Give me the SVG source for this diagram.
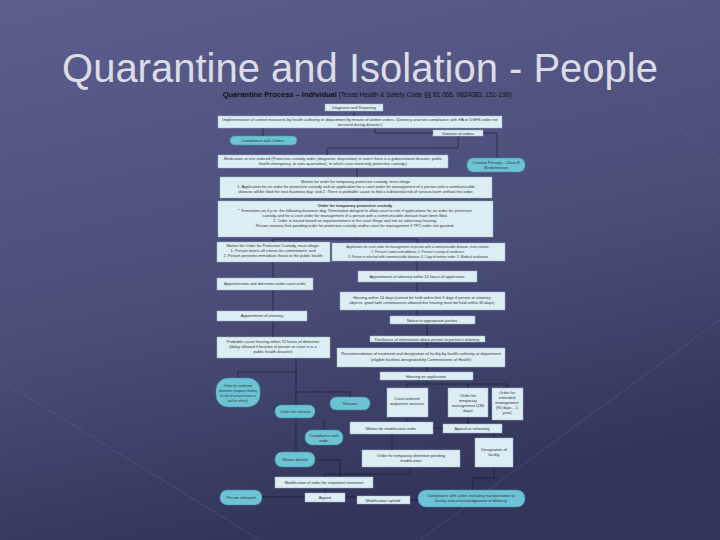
<svg xmlns="http://www.w3.org/2000/svg" width="720" height="540" viewBox="0 0 720 540">
<defs>
<linearGradient id="bg" x1="0" y1="0" x2="0.3" y2="1">
<stop offset="0" stop-color="#5c5f8e"/><stop offset="0.6" stop-color="#4a4d78"/><stop offset="1" stop-color="#33355a"/>
</linearGradient>
<marker id="ah" viewBox="0 0 6 6" refX="5" refY="3" markerWidth="3" markerHeight="3" orient="auto"><path d="M0,0L6,3L0,6z" fill="#111"/></marker>
<style>
.b{fill:#dcedf3;stroke:#9fb8c4;stroke-width:0.5}
.p{fill:#6cc3d5;stroke:#3f8fa3;stroke-width:0.6}
.t{font-family:"Liberation Sans",Arial,sans-serif;font-size:4px;fill:#333;text-anchor:middle}
.s{font-size:3.3px}
.c path{fill:none;stroke:#1a1a28;stroke-width:0.6;marker-end:url(#ah)}
</style>
</defs>
<rect width="720" height="540" fill="url(#bg)"/>
<g stroke="#6a6d9a" stroke-width="1" opacity="0.35"><path d="M0,380L260,540M420,540L720,320M520,0L720,160"/></g>
<text x="360" y="82" font-family="Liberation Sans,Arial,sans-serif" font-size="40" fill="#dcdce6" text-anchor="middle">Quarantine and Isolation - People</text>
<text x="367" y="97" font-family="Liberation Sans,Arial,sans-serif" font-size="6.5" fill="#111" text-anchor="middle"><tspan font-weight="bold" font-size="7.5">Quarantine Process – Individual</tspan> (Texas Health &amp; Safety Code §§ 81.066, 0824083, 151-196)</text>

<g class="c">
<path d="M354,111V116"/><path d="M263,128V136"/><path d="M375,128V133H433"/>
<path d="M458,136V148H327V155"/><path d="M483,133H497V158"/>
<path d="M357,168V177"/><path d="M357,198V201"/>
<path d="M357,237V239H273V242"/><path d="M357,239H417V243"/>
<path d="M273,262V278"/><path d="M273,290V311"/><path d="M273,321V337"/>
<path d="M417,261V271"/><path d="M417,282V292"/><path d="M417,310V316"/><path d="M427,324V336"/><path d="M427,342V348"/><path d="M427,367V372"/>
<path d="M427,380V384H407V388"/><path d="M427,384H468V388"/><path d="M468,384H507V388"/>
<path d="M296,358V405"/><path d="M296,372H238V378"/><path d="M296,392H350V397"/>
<path d="M296,418V452"/><path d="M324,420V430"/>
<path d="M407,417V422"/><path d="M468,417V424"/><path d="M443,428H433"/><path d="M494,433V438"/>
<path d="M392,434V450"/><path d="M410,467V474H325V477"/><path d="M315,460H340V477"/>
<path d="M325,488V493"/><path d="M305,497H262"/><path d="M345,497H357"/><path d="M410,500H418"/>
<path d="M494,467V478H473V490"/>
</g>

<g id="n1"><rect class="b" x="325" y="104" width="58" height="7"/><text class="t" x="354" y="109">Diagnosis and Reporting</text></g>
<g id="n2"><rect class="b" x="218" y="116" width="284" height="12"/><text class="t" x="360" y="121">Implementation of control measures by health authority or department by means of written orders.  (Delivery and non-compliance with HA or DSHS order not</text><text class="t" x="360" y="126">received during disaster.)</text></g>
<g id="n3"><rect class="b" x="433" y="130" width="50" height="6"/><text class="t" x="458" y="134.5">Violation of orders</text></g>
<g id="n4"><rect class="p" x="230" y="136" width="67" height="9" rx="4.5"/><text class="t" x="263" y="142">Compliance with Orders</text></g>
<g id="n5"><rect class="b" x="218" y="155" width="230" height="13"/><text class="t" x="333" y="160">Medication or test ordered (Protective custody order (diagnosis; disposition) in event there is a gubernatorial disaster, public</text><text class="t" x="333" y="165">health emergency, or area quarantine). In which case need only protective custody.)</text></g>
<g id="n6"><rect class="p" x="467" y="158" width="58" height="14" rx="6"/><text class="t" x="496" y="164">Criminal Penalty – Class B</text><text class="t" x="496" y="169">Misdemeanor</text></g>
<g id="n7"><rect class="b" x="220" y="177" width="272" height="21"/><text class="t" x="356" y="183">Motion for order for temporary protective custody, must allege:</text><text class="t" x="356" y="188">1. Application for an order for protective custody and an application for a court order for management of a person with a communicable</text><text class="t" x="356" y="193">disease will be filed the next business day; and 2. There is probable cause to find a substantial risk of serious harm without the order.</text></g>
<g id="n8"><rect class="b" x="218" y="201" width="275" height="36"/><text class="t" x="355" y="207" font-weight="bold">Order for temporary protective custody</text><text class="t" x="355" y="212">* Terminates on 4 p.m. the following business day.  Termination delayed to allow court to rule if applications for an order for protective</text><text class="t" x="355" y="217">custody and for a court order for management of a person with a communicable disease have been filed.</text><text class="t" x="355" y="222">2. Order is issued based on representations in the court filings and not an adversary hearing.</text><text class="t" x="355" y="227">Person remains free pending order for protective custody and/or court for management if TPC order not granted.</text></g>
<g id="n9"><rect class="b" x="217" y="242" width="113" height="20"/><text class="t" x="273" y="247">Motion for Order for Protective Custody, must allege:</text><text class="t" x="273" y="252">1. Person meets all criteria for commitment; and</text><text class="t" x="273" y="257">2. Person presents immediate threat to the public health</text></g>
<g id="n10"><rect class="b" x="332" y="243" width="173" height="18"/><text class="t s" x="418" y="248">Application for court order for management of person with a communicable disease, must contain:</text><text class="t s" x="418" y="253">1. Person's name and address; 2. Person's county of residence;</text><text class="t s" x="418" y="258">3. Person is infected with communicable disease; 4. Copy of written order; 5. Medical evaluation</text></g>
<g id="n11"><rect class="b" x="358" y="271" width="119" height="11"/><text class="t" x="417" y="278">Appointment of attorney within 24 hours of application</text></g>
<g id="n12"><rect class="b" x="217" y="278" width="96" height="12"/><text class="t" x="265" y="285">Apprehension and detention under court order</text></g>
<g id="n13"><rect class="b" x="340" y="292" width="165" height="18"/><text class="t" x="422" y="299">Hearing within 14 days (cannot be held within first 3 days if person or attorney</text><text class="t" x="422" y="304">objects; good faith continuances allowed but hearing must be held within 30 days)</text></g>
<g id="n14"><rect class="b" x="217" y="311" width="90" height="10"/><text class="t" x="262" y="317">Appointment of attorney</text></g>
<g id="n15"><rect class="b" x="390" y="316" width="85" height="8"/><text class="t" x="432" y="321.5">Notice to appropriate parties</text></g>
<g id="n16"><rect class="b" x="217" y="337" width="113" height="21"/><text class="t" x="273" y="343">Probable cause hearing within 72 hours of detention</text><text class="t" x="273" y="348">(delay allowed if location of person or court is in a</text><text class="t" x="273" y="353">public health disaster)</text></g>
<g id="n17"><rect class="b" x="370" y="336" width="115" height="6"/><text class="t" x="427" y="340.5">Disclosure of information about person to person's attorney</text></g>
<g id="n18"><rect class="b" x="337" y="348" width="168" height="19"/><text class="t" x="421" y="355">Recommendation of treatment and designation of facility by health authority or department</text><text class="t" x="421" y="361">(eligible facilities designated by Commissioner of Health)</text></g>
<g id="n19"><rect class="b" x="380" y="372" width="93" height="8"/><text class="t" x="426" y="377.5">Hearing on application</text></g>
<g id="n20"><rect class="p" x="216" y="378" width="44" height="29" rx="12"/><text class="t s" x="238" y="387">Order for continued</text><text class="t s" x="238" y="392">detention (requires finding</text><text class="t s" x="238" y="397">of risk of serious harm to</text><text class="t s" x="238" y="402">self or others)</text></g>
<g id="n21"><rect class="p" x="275" y="405" width="40" height="13" rx="6"/><text class="t" x="295" y="413">Order for release</text></g>
<g id="n22"><rect class="p" x="330" y="397" width="40" height="13" rx="6"/><text class="t" x="350" y="405">Release</text></g>
<g id="n23"><rect class="b" x="387" y="388" width="41" height="29"/><text class="t" x="407" y="400">Court-ordered</text><text class="t" x="407" y="405">outpatient services</text></g>
<g id="n24"><rect class="b" x="448" y="388" width="40" height="29"/><text class="t" x="468" y="397">Order for</text><text class="t" x="468" y="402">temporary</text><text class="t" x="468" y="407">management (180</text><text class="t" x="468" y="412">days)</text></g>
<g id="n25"><rect class="b" x="492" y="388" width="31" height="32"/><text class="t" x="507" y="394">Order for</text><text class="t" x="507" y="399">extended</text><text class="t" x="507" y="404">management</text><text class="t" x="507" y="409">(90 days – 1</text><text class="t" x="507" y="414">year)</text></g>
<g id="n26"><rect class="b" x="350" y="422" width="83" height="12"/><text class="t" x="391" y="429.5">Motion for modification order</text></g>
<g id="n27"><rect class="b" x="443" y="424" width="59" height="9"/><text class="t" x="472" y="430">Appeal or rehearing</text></g>
<g id="n28"><rect class="p" x="305" y="430" width="38" height="15" rx="7"/><text class="t" x="324" y="436.5">Compliance with</text><text class="t" x="324" y="441.5">order</text></g>
<g id="n29"><rect class="b" x="475" y="438" width="38" height="29"/><text class="t" x="494" y="451">Designation of</text><text class="t" x="494" y="456">facility</text></g>
<g id="n30"><rect class="p" x="275" y="452" width="40" height="15" rx="7"/><text class="t" x="295" y="461">Motion denied</text></g>
<g id="n31"><rect class="b" x="362" y="450" width="98" height="17"/><text class="t" x="411" y="457">Order for temporary detention pending</text><text class="t" x="411" y="462">modification</text></g>
<g id="n32"><rect class="b" x="275" y="477" width="98" height="11"/><text class="t" x="324" y="484">Modification of order for outpatient treatment</text></g>
<g id="n33"><rect class="p" x="220" y="490" width="42" height="15" rx="7"/><text class="t" x="241" y="499">Person released</text></g>
<g id="n34"><rect class="b" x="305" y="493" width="40" height="9"/><text class="t" x="325" y="499">Appeal</text></g>
<g id="n35"><rect class="b" x="357" y="496" width="53" height="8"/><text class="t" x="383" y="501.5">Modification upheld</text></g>
<g id="n36"><rect class="p" x="418" y="490" width="107" height="17" rx="8"/><text class="t" x="471" y="497">Compliance with order, including transportation to</text><text class="t" x="471" y="502">facility and acknowledgement of delivery</text></g>
</svg>
